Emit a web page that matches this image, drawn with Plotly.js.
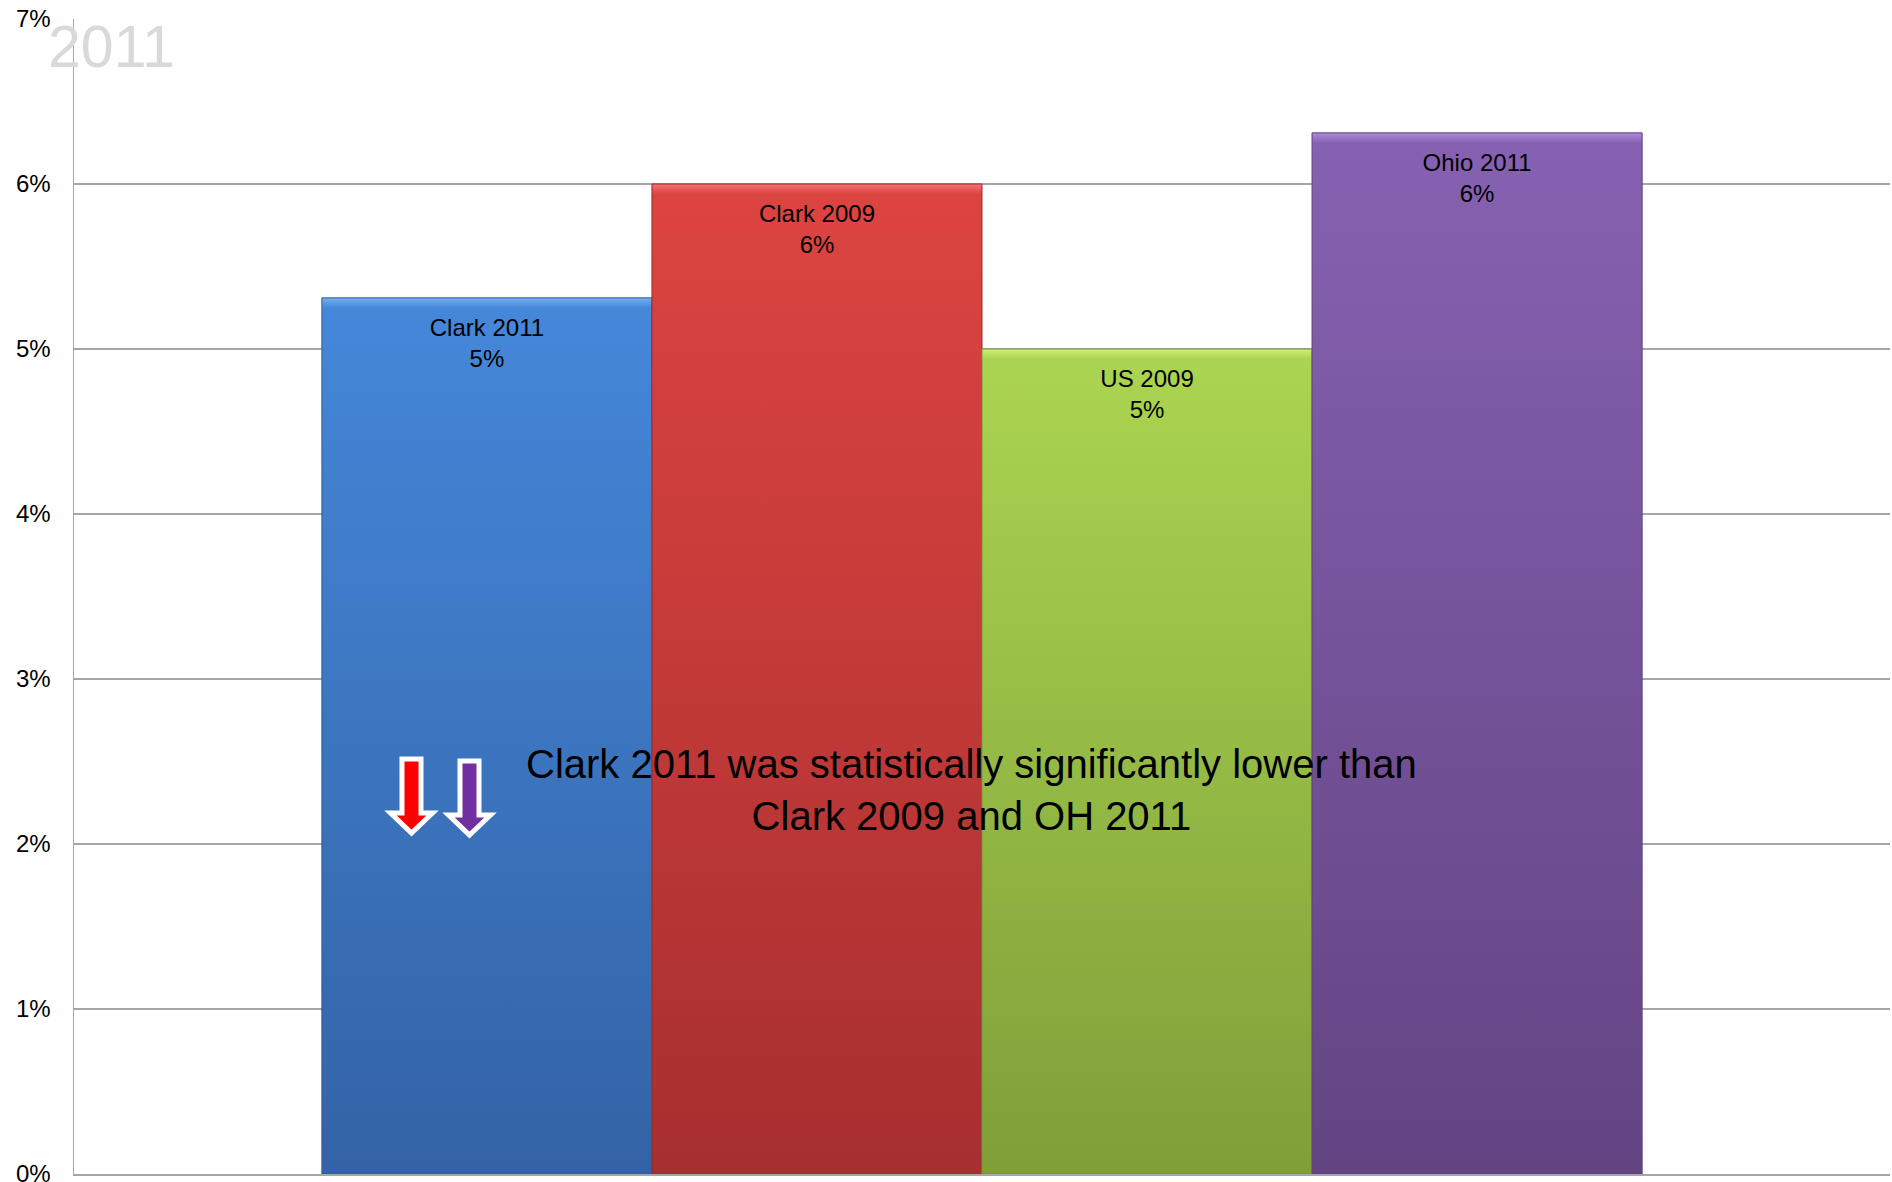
<!DOCTYPE html>
<html>
<head>
<meta charset="utf-8">
<script src="https://cdn.plot.ly/plotly-3.0.1.min.js"></script>
<style>
  html, body { margin: 0; padding: 0; background: #ffffff; }
  #chart { width: 1892px; height: 1182px; }
</style>
</head>
<body>
<div id="chart"></div>
<script>
// ---------------- data ----------------
const seriesNames = ["Clark 2011", "Clark 2009", "US 2009", "Ohio 2011"];
const seriesValues = [0.0531, 0.0600, 0.0500, 0.0631];
const category = [""];
const chartYear = "2011";
const noteText = "Clark 2011 was statistically significantly lower than<br>Clark 2009 and OH 2011";
const yTickVals = [0, 0.01, 0.02, 0.03, 0.04, 0.05, 0.06, 0.07];

// ---------------- styles ----------------
const FONT = '"Liberation Sans Narrow", "Liberation Sans", Arial, sans-serif';
const baseColors = ["#3d78c4", "#c43a38", "#97bb45", "#74519e"];
const gradTop    = ["#4587d9", "#dc4441", "#abd450", "#8661b1"];
const gradBottom = ["#3363a6", "#a72f2f", "#7f9f39", "#634483"];
const bevelLight = ["#74b0f2", "#f47472", "#cdf07a", "#ab8bdb"];
const edgeColors = ["#2f5c98", "#9a2c2a", "#77963a", "#5b3f7c"];

const W = 1892, H = 1182;
const M = { l: 74, r: 2, t: 19, b: 8 };
const PW = W - M.l - M.r, PH = H - M.t - M.b;
const px = x => (x - M.l) / PW;
const py = y => (H - M.b - y) / PH;

const data = seriesNames.map((name, i) => ({
  type: "bar",
  name: name,
  x: category,
  y: [seriesValues[i]],
  text: [name],
  marker: { color: baseColors[i], line: { color: edgeColors[i], width: 1 } },
  texttemplate: "%{text}<br>%{y:.0%}",
  textposition: "inside",
  insidetextanchor: "end",
  textangle: 0,
  insidetextfont: { family: FONT, size: 24, color: "#000000" },
  hoverinfo: "skip",
  cliponaxis: false
}));

function arrowPath(cx, top, headY, tip, shaftHalf, headHalf) {
  const X = v => px(v), Y = v => py(v);
  return "M" + X(cx - shaftHalf) + "," + Y(top) +
         " L" + X(cx + shaftHalf) + "," + Y(top) +
         " L" + X(cx + shaftHalf) + "," + Y(headY) +
         " L" + X(cx + headHalf) + "," + Y(headY) +
         " L" + X(cx) + "," + Y(tip) +
         " L" + X(cx - headHalf) + "," + Y(headY) +
         " L" + X(cx - shaftHalf) + "," + Y(headY) + " Z";
}

const layout = {
  width: W, height: H,
  margin: M,
  paper_bgcolor: "#ffffff",
  plot_bgcolor: "#ffffff",
  showlegend: false,
  barmode: "group",
  bargap: 0.273,
  bargroupgap: 0,
  font: { family: FONT, size: 24, color: "#000000" },
  xaxis: {
    type: "category",
    showticklabels: false,
    ticks: "",
    showgrid: false,
    showline: true,
    linecolor: "#a6a6a6",
    linewidth: 1.5,
    fixedrange: true
  },
  yaxis: {
    range: [0, 0.07],
    tickvals: yTickVals,
    tickformat: ".0%",
    tickfont: { family: FONT, size: 24, color: "#000000" },
    ticks: "",
    ticklabelstandoff: 17,
    ticklabeloverflow: "allow",
    showgrid: true,
    gridcolor: "#a6a6a6",
    gridwidth: 1.5,
    zeroline: false,
    showline: true,
    linecolor: "#a6a6a6",
    linewidth: 1.5,
    fixedrange: true
  },
  shapes: [
    { type: "path", xref: "paper", yref: "paper", layer: "above",
      path: arrowPath(411.5, 759, 813, 833, 9.5, 21),
      fillcolor: "#ff0000", line: { color: "#ffffff", width: 5 } },
    { type: "path", xref: "paper", yref: "paper", layer: "above",
      path: arrowPath(469.5, 761, 815, 835, 9.5, 21),
      fillcolor: "#7030a0", line: { color: "#ffffff", width: 5 } }
  ],
  annotations: [
    { xref: "paper", yref: "paper", x: px(46), y: py(47),
      xanchor: "left", yanchor: "middle", showarrow: false,
      text: chartYear,
      font: { family: FONT, size: 59, color: "#d9d9d9" } },
    { xref: "paper", yref: "paper", x: px(971), y: py(790),
      xanchor: "center", yanchor: "middle", align: "center", showarrow: false,
      text: noteText,
      font: { family: FONT, size: 40, color: "#000000" } }
  ]
};

Plotly.newPlot("chart", data, layout, { displayModeBar: false, staticPlot: true }).then(gd => {
  const NS = "http://www.w3.org/2000/svg";
  const svg = gd.querySelector("svg.main-svg");
  let defs = svg.querySelector("defs");
  if (!defs) { defs = document.createElementNS(NS, "defs"); svg.insertBefore(defs, svg.firstChild); }
  gd.querySelectorAll(".barlayer .trace").forEach((tr, i) => {
    const path = tr.querySelector(".point path");
    if (!path) return;
    const bb = path.getBBox();
    const bev = Math.min(0.05, 10 / Math.max(bb.height, 1));
    const g = document.createElementNS(NS, "linearGradient");
    g.setAttribute("id", "barGrad" + i);
    g.setAttribute("x1", "0"); g.setAttribute("y1", "0");
    g.setAttribute("x2", "0"); g.setAttribute("y2", "1");
    const stops = [
      [0, bevelLight[i]],
      [bev, gradTop[i]],
      [bev + 0.001, gradTop[i]],
      [1, gradBottom[i]]
    ];
    stops.forEach(([o, c]) => {
      const s = document.createElementNS(NS, "stop");
      s.setAttribute("offset", o);
      s.setAttribute("stop-color", c);
      g.appendChild(s);
    });
    defs.appendChild(g);
    path.style.fill = "url(#barGrad" + i + ")";
    // nudge the label a little lower inside the bar, as in the reference
    const txt = tr.querySelector(".point text");
    if (txt) {
      const t = txt.getAttribute("transform") || "";
      txt.setAttribute("transform", t + " translate(0,13)");
    }
  });
});
</script>
</body>
</html>
